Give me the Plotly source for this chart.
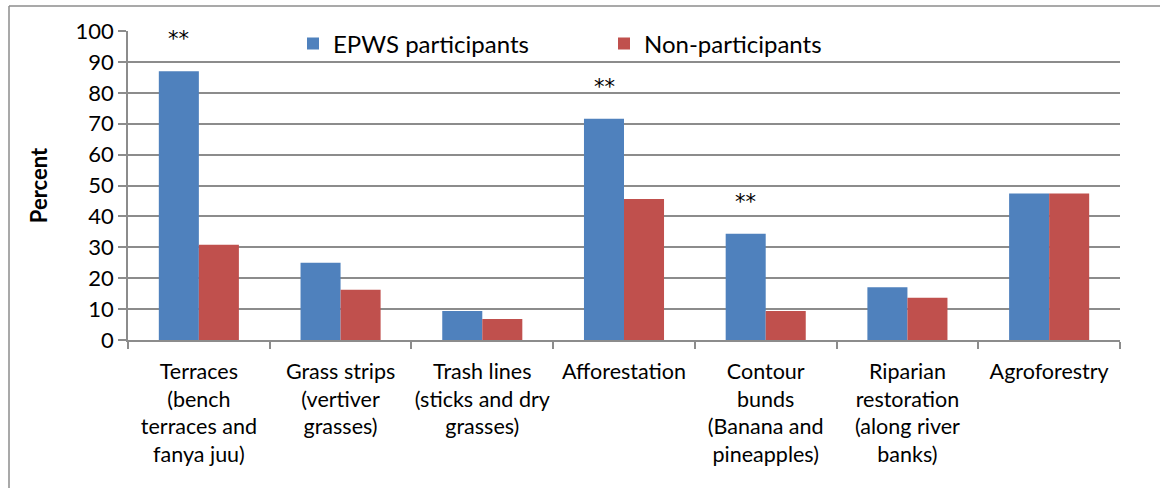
import plotly.graph_objects as go

categories = [
    "Terraces<br>(bench<br>terraces and<br>fanya juu)",
    "Grass strips<br>(vertiver<br>grasses)",
    "Trash lines<br>(sticks and dry<br>grasses)",
    "Afforestation",
    "Contour<br>bunds<br>(Banana and<br>pineapples)",
    "Riparian<br>restoration<br>(along river<br>banks)",
    "Agroforestry",
]
epws_participants = [87.0, 25.0, 9.4, 71.6, 34.4, 17.1, 47.4]
non_participants = [30.8, 16.3, 6.8, 45.6, 9.4, 13.7, 47.4]
significance = ["**", "", "", "**", "**", "", ""]
y_ticks = [0, 10, 20, 30, 40, 50, 60, 70, 80, 90, 100]

FONT = "Lato"
W, H = 1160, 488
L, R, T, B = 128, 40, 31, 148
pw, ph = W - L - R, H - T - B


def px_x(x):
    return (x - L) / pw


def px_y(y):
    return 1 - (y - T) / ph


fig = go.Figure()
fig.add_trace(go.Bar(name="EPWS participants", x=categories, y=epws_participants,
                     marker=dict(color="#4F81BD", line=dict(width=0))))
fig.add_trace(go.Bar(name="Non-participants", x=categories, y=non_participants,
                     marker=dict(color="#C0504D", line=dict(width=0))))

# significance markers above the participant bars
for i, (cat, val, mark) in enumerate(zip(categories, epws_participants, significance)):
    if mark:
        fig.add_annotation(x=i, y=val, xref="x", yref="y", text=mark, showarrow=False,
                           xshift=-20, yshift=32,
                           font=dict(family="DejaVu Sans", size=21, color="black"))

# outer chart frame
frame = dict(type="line", xref="paper", yref="paper", line=dict(color="#8C8C8C", width=1.5))
fig.add_shape(**frame, x0=px_x(9), x1=px_x(1170), y0=px_y(6), y1=px_y(6))
fig.add_shape(**frame, x0=px_x(9), x1=px_x(9), y0=px_y(6), y1=px_y(500))

fig.update_layout(
    width=W, height=H,
    margin=dict(l=L, r=R, t=T, b=B),
    paper_bgcolor="white", plot_bgcolor="white",
    barmode="group", bargap=0.435, bargroupgap=0,
    font=dict(family=FONT, size=21, color="black"),
    showlegend=True,
    legend=dict(orientation="h", x=px_x(293), y=px_y(44), xanchor="left", yanchor="middle",
                bgcolor="rgba(0,0,0,0)", font=dict(family=FONT, size=24),
                entrywidth=266, entrywidthmode="pixels", itemwidth=30, tracegroupgap=0),
    xaxis=dict(
        type="category", showgrid=False, showline=True, linecolor="#8C8C8C", linewidth=1.5,
        ticks="outside", ticklen=7, tickcolor="#8C8C8C", tickwidth=1.5, tickson="boundaries",
        tickfont=dict(family=FONT, size=21.5), tickangle=0, ticklabelstandoff=11,
    ),
    yaxis=dict(
        range=[0, 100], tickvals=y_ticks, showgrid=True, gridcolor="#8C8C8C", gridwidth=1.5,
        showline=True, linecolor="#8C8C8C", linewidth=1.5, ticks="outside", ticklen=8,
        tickcolor="#8C8C8C", tickwidth=1.5, tickfont=dict(family=FONT, size=22),
        zeroline=False,
        title=dict(text="<b>Percent</b>", font=dict(family=FONT, size=22), standoff=22),
    ),
)

fig.write_html("out.html")
